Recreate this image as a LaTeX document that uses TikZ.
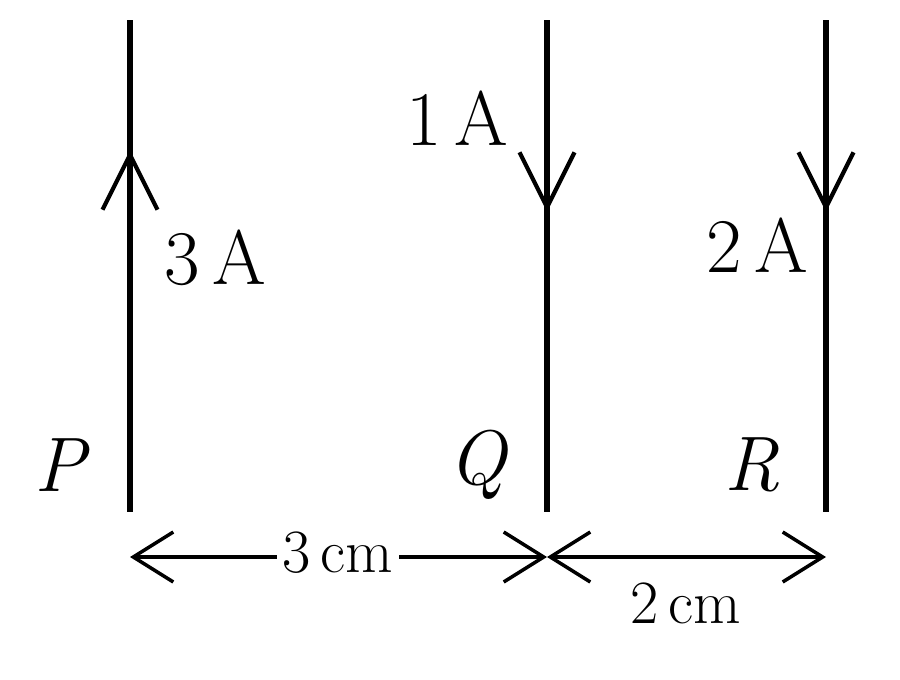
\documentclass[tikz,border=0pt]{standalone}
\usetikzlibrary{arrows.meta}
\tikzset{
  wire/.style={line width=3pt},
  flow/.style={line width=2.4pt, -{Straight Barb[length=1.1cm,width=1.1cm,line width=2.4pt]}},
  dim/.style={line width=2pt, {Straight Barb[length=0.8cm,width=1cm,line width=2pt]}-{Straight Barb[length=0.8cm,width=1cm,line width=2pt]}},
  big/.style={font=\fontsize{44}{50}\selectfont},
  small/.style={font=\fontsize{35}{40}\selectfont}
}
\begin{document}
\begin{tikzpicture}[x=0.02cm,y=-0.02cm]
\useasboundingbox (0,0) rectangle (900,680);
% wires
\coordinate (Ptop) at (130,20);  \coordinate (Pbot) at (130,512);
\coordinate (Qtop) at (547,20);  \coordinate (Qbot) at (547,512);
\coordinate (Rtop) at (826,20);  \coordinate (Rbot) at (826,512);
\draw[wire] (Ptop) -- (Pbot);
\draw[wire] (Qtop) -- (Qbot);
\draw[wire] (Rtop) -- (Rbot);
% current directions
\coordinate (Pa) at (130,150); \coordinate (Qa) at (547,212); \coordinate (Ra) at (826,212);
\draw[flow] (130,260) -- (Pa);
\draw[flow] (547,100) -- (Qa);
\draw[flow] (826,100) -- (Ra);
% labels
\node[big] (iP) at (215,258) {3\,A};
\node[big] (iQ) at (457,118) {1\,A};
\node[big] (iR) at (757,245) {2\,A};
\node[big] (lP) at (62,465) {\textit{P}};
\node[big] (lQ) at (478,465) {\textit{Q}};
\node[big] (lR) at (752,465) {\textit{R}};
% separations
\coordinate (dP) at (130,557); \coordinate (dQ) at (547,557); \coordinate (dR) at (826,557);
\draw[dim] (dP) -- (dQ);
\draw[dim] (dQ) -- (dR);
\node[small, fill=white, inner sep=3pt] (d1) at (338,553) {3\,cm};
\node[small] (d2) at (686,603) {2\,cm};
\end{tikzpicture}
\end{document}
